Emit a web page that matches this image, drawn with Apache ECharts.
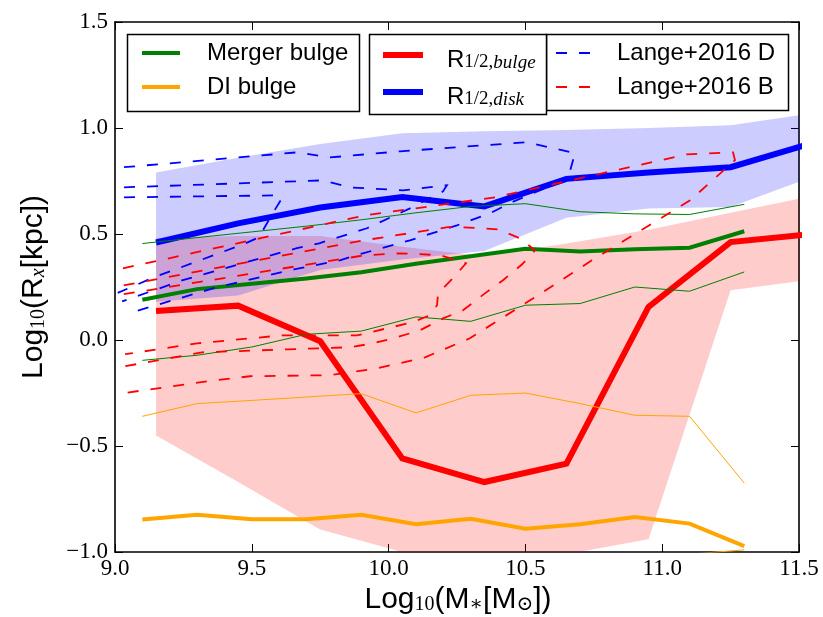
<!DOCTYPE html>
<html>
<head>
<meta charset="utf-8">
<script src="https://cdn.jsdelivr.net/npm/echarts@6/dist/echarts.min.js"></script>
<style>
  html, body { margin: 0; padding: 0; background: #fff; }
  #chart { width: 823px; height: 617px; }
</style>
</head>
<body>
<div id="chart"></div>
<script>
// Half-mass radii in mass bins (bulge and disk), with 16-84 percentile bands
const binX      = [9.15, 9.45, 9.75, 10.05, 10.35, 10.65, 10.95, 11.25, 11.55];
const bulgeHalf = [0.137, 0.162, -0.006, -0.559, -0.670, -0.583, 0.156, 0.462, 0.50];
const diskHalf  = [0.46, 0.55, 0.625, 0.675, 0.63, 0.76, 0.79, 0.815, 0.93];
const bulgeLo   = [-0.45, -0.67, -0.894, -1.0, -1.05, -1.01, -0.94, 0.235, 0.285];
const bulgeHi   = [0.48, 0.49, 0.49, 0.44, 0.395, 0.455, 0.52, 0.60, 0.68];
const diskLo    = [0.18, 0.21, 0.33, 0.38, 0.42, 0.577, 0.62, 0.627, 0.77];
const diskHi    = [0.79, 0.86, 0.925, 0.975, 0.985, 0.99, 1.0, 1.013, 1.07];

// Merger-built and disk-instability bulges: median and percentile lines
const massX     = [9.1, 9.3, 9.5, 9.7, 9.9, 10.1, 10.3, 10.5, 10.7, 10.9, 11.1, 11.3];
const mergerMed = [0.19, 0.24, 0.265, 0.29, 0.32, 0.36, 0.395, 0.43, 0.418, 0.428, 0.435, 0.513];
const mergerHi  = [0.455, 0.483, 0.51, 0.537, 0.567, 0.60, 0.63, 0.643, 0.605, 0.595, 0.592, 0.64];
const mergerLo  = [-0.096, -0.072, -0.033, 0.027, 0.042, 0.109, 0.088, 0.164, 0.172, 0.25, 0.23, 0.321];
const diMed     = [-0.847, -0.824, -0.846, -0.846, -0.824, -0.869, -0.843, -0.890, -0.869, -0.835, -0.866, -0.972];
const diHi      = [-0.36, -0.30, -0.285, -0.269, -0.253, -0.344, -0.261, -0.25, -0.30, -0.355, -0.36, -0.675];
const diLo      = [-1.35, -1.32, -1.33, -1.33, -1.30, -1.34, -1.31, -1.33, -1.30, -1.25, -1.01, -0.99];

// Lange et al. (2016) size-mass relations, disks (D) and bulges (B)
const langeD1 = [[9.033,0.815],[9.665,0.885],[9.786,0.861],[10.042,0.890],[10.506,0.933],[10.681,0.881],[10.656,0.763],[10.451,0.650],[10.371,0.598],[10.250,0.541],[10.078,0.470],[9.906,0.409],[9.822,0.376],[9.654,0.333],[9.373,0.249],[9.044,0.124]];
const langeD2 = [[9.033,0.720],[9.760,0.753],[9.859,0.720],[10.053,0.706],[10.213,0.730],[10.199,0.701],[10.078,0.621],[9.921,0.527],[9.746,0.456],[9.665,0.433],[9.490,0.371],[9.245,0.281],[9.026,0.182]];
const langeD3 = [[9.033,0.673],[9.585,0.682],[9.610,0.668],[9.574,0.593],[9.526,0.484],[9.468,0.451],[9.143,0.296],[9.010,0.222]];
const langeB1 = [[9.029,0.338],[9.914,0.588],[10.389,0.673],[11.091,0.876],[11.259,0.885],[11.266,0.848],[11.102,0.659],[10.743,0.376],[10.517,0.187],[10.297,0.008],[10.133,-0.082],[9.961,-0.133],[9.786,-0.166],[9.493,-0.171],[9.336,-0.195],[9.029,-0.251]];
const langeB2 = [[9.032,0.258],[9.909,0.470],[10.217,0.532],[10.268,0.532],[10.400,0.522],[10.480,0.480],[10.535,0.423],[10.488,0.357],[10.418,0.282],[10.352,0.220],[10.272,0.140],[10.199,0.102],[10.115,0.046],[10.031,0.013],[9.943,-0.016],[9.859,-0.034],[9.636,-0.044],[9.318,-0.058],[9.015,-0.129]];
const langeB3 = [[9.032,0.216],[9.909,0.399],[10.042,0.409],[10.188,0.400],[10.283,0.362],[10.235,0.291],[10.181,0.220],[10.177,0.164],[10.151,0.117],[10.089,0.084],[9.885,0.022],[9.610,0.022],[9.300,-0.016],[9.037,-0.067]];

const RED = '#ff0000', BLUE = '#0000ff', GREEN = '#008000', ORANGE = '#ffa500';
const SANS = 'Liberation Sans, Arial, sans-serif';
const SERIF = 'Liberation Serif, DejaVu Serif, serif';

const zip = (xs, ys) => xs.map((x, i) => [x, ys[i]]);
const fmt = v => v.toFixed(1).replace('-', '\u2212');

// shaded percentile band as a polygon in data coordinates
function band(xs, lo, hi, fill, z) {
  return {
    type: 'custom', silent: true, clip: true, z: z,
    data: [[xs[0], lo[0]]],
    renderItem: function (params, api) {
      const pts = [];
      for (let i = 0; i < xs.length; i++) pts.push(api.coord([xs[i], hi[i]]));
      for (let i = xs.length - 1; i >= 0; i--) pts.push(api.coord([xs[i], lo[i]]));
      const cs = params.coordSys;
      return {
        type: 'polygon', shape: { points: pts }, style: { fill: fill },
        clipPath: { type: 'rect', shape: { x: cs.x, y: cs.y, width: cs.width, height: cs.height } }
      };
    }
  };
}

function line(data, color, width, z, dash) {
  return {
    type: 'line', data: data, symbol: 'none', silent: true, z: z, clip: true,
    lineStyle: { color: color, width: width, type: dash || 'solid', cap: 'butt', join: 'miter' }
  };
}

const chart = echarts.init(document.getElementById('chart'), null, { renderer: 'canvas' });

const tickCommon = { inside: true, length: 8, lineStyle: { color: '#000', width: 1 } };
const axisLineCommon = { show: true, onZero: false, lineStyle: { color: '#000', width: 1.6 } };

// legend pieces
function legendBox(x, y, w, h) {
  return { type: 'rect', z: 100, shape: { x: x, y: y, width: w, height: h },
           style: { fill: '#fff', stroke: '#000', lineWidth: 1.5 } };
}
function legendLine(x1, x2, y, color, width, dash) {
  return { type: 'line', z: 101, shape: { x1: x1, y1: y, x2: x2, y2: y },
           style: { stroke: color, lineWidth: width, lineDash: dash || null } };
}
function legendText(x, y, text, rich) {
  return { type: 'text', z: 101, x: x, y: y,
           style: { text: text, fill: '#000', font: '24px ' + SANS, verticalAlign: 'middle', align: 'left', rich: rich || undefined } };
}
const subRich = {
  r: { fontFamily: SANS, fontSize: 24, lineHeight: 30, verticalAlign: 'bottom' },
  s: { fontFamily: SERIF, fontSize: 19, lineHeight: 20, verticalAlign: 'bottom' },
  si: { fontFamily: SERIF, fontSize: 19, fontStyle: 'italic', lineHeight: 20, verticalAlign: 'bottom' }
};
const titleRich = {
  r: { fontFamily: SANS, fontSize: 30, lineHeight: 38, verticalAlign: 'bottom' },
  s: { fontFamily: SERIF, fontSize: 20, lineHeight: 22, verticalAlign: 'bottom' },
  si: { fontFamily: SERIF, fontSize: 20, fontStyle: 'italic', lineHeight: 22, verticalAlign: 'bottom' }
};

const option = {
  backgroundColor: '#fff',
  animation: false,
  grid: { left: 115, right: 24, top: 22, bottom: 65, show: false },
  xAxis: [
    { type: 'value', min: 9.0, max: 11.5, interval: 0.5, position: 'bottom',
      axisLine: axisLineCommon, axisTick: tickCommon, splitLine: { show: false },
      axisLabel: { color: '#000', fontFamily: SERIF, fontSize: 23, margin: 5, formatter: fmt } },
    { type: 'value', min: 9.0, max: 11.5, interval: 0.5, position: 'top',
      axisLine: axisLineCommon, axisTick: tickCommon, splitLine: { show: false }, axisLabel: { show: false } }
  ],
  yAxis: [
    { type: 'value', min: -1.0, max: 1.5, interval: 0.5, position: 'left',
      axisLine: axisLineCommon, axisTick: tickCommon, splitLine: { show: false },
      axisLabel: { color: '#000', fontFamily: SERIF, fontSize: 23, margin: 7, formatter: fmt } },
    { type: 'value', min: -1.0, max: 1.5, interval: 0.5, position: 'right',
      axisLine: axisLineCommon, axisTick: tickCommon, splitLine: { show: false }, axisLabel: { show: false } }
  ],
  series: [
    band(binX, bulgeLo, bulgeHi, 'rgba(255,0,0,0.2)', 1),
    band(binX, diskLo, diskHi, 'rgba(0,0,255,0.2)', 1),
    line(zip(binX, bulgeHalf), RED, 6, 3),
    line(zip(binX, diskHalf), BLUE, 6, 3),
    line(zip(massX, mergerMed), GREEN, 4, 4),
    line(zip(massX, mergerHi), GREEN, 1, 4),
    line(zip(massX, mergerLo), GREEN, 1, 4),
    line(zip(massX, diMed), ORANGE, 4, 4),
    line(zip(massX, diHi), ORANGE, 1, 4),
    line(zip(massX, diLo), ORANGE, 1, 4),
    line(langeD1, BLUE, 1.8, 5, [11, 12]),
    line(langeD2, BLUE, 1.8, 5, [11, 12]),
    line(langeD3, BLUE, 1.8, 5, [11, 12]),
    line(langeB1, RED, 1.8, 5, [11, 12]),
    line(langeB2, RED, 1.8, 5, [11, 12]),
    line(langeB3, RED, 1.8, 5, [11, 12])
  ],
  graphic: [
    legendBox(127.5, 34.5, 232, 77),
    legendLine(142, 180, 53, GREEN, 4),
    legendLine(142, 180, 87, ORANGE, 4),
    legendText(207, 53, 'Merger bulge'),
    legendText(207, 87, 'DI bulge'),

    legendBox(546.5, 34.5, 242, 76),
    legendLine(556, 590, 53, BLUE, 1.8, [11, 12]),
    legendLine(556, 590, 87, RED, 1.8, [11, 12]),
    legendText(617, 53, 'Lange+2016 D'),
    legendText(617, 87, 'Lange+2016 B'),

    legendBox(369.5, 34.5, 177, 80),
    legendLine(383, 423, 55, RED, 6),
    legendLine(383, 423, 92, BLUE, 6),
    legendText(447, 57, '{r|R}{s|1/2,}{si|bulge}', subRich),
    legendText(447, 94, '{r|R}{s|1/2,}{si|disk}', subRich),

    // axis titles
    { type: 'text', z: 50, x: 458, y: 596,
      style: { text: '{r|Log}{s|10}{r|(M}{s|\u2217}{r|[M}{s|\u2299}{r|])}', align: 'center', verticalAlign: 'middle', rich: titleRich } },
    { type: 'text', z: 50, x: 30, y: 287, rotation: Math.PI / 2,
      style: { text: '{r|Log}{s|10}{r|(R}{si|x}{r|[kpc])}', align: 'center', verticalAlign: 'middle', rich: titleRich } }
  ]
};

chart.setOption(option);
</script>
</body>
</html>
